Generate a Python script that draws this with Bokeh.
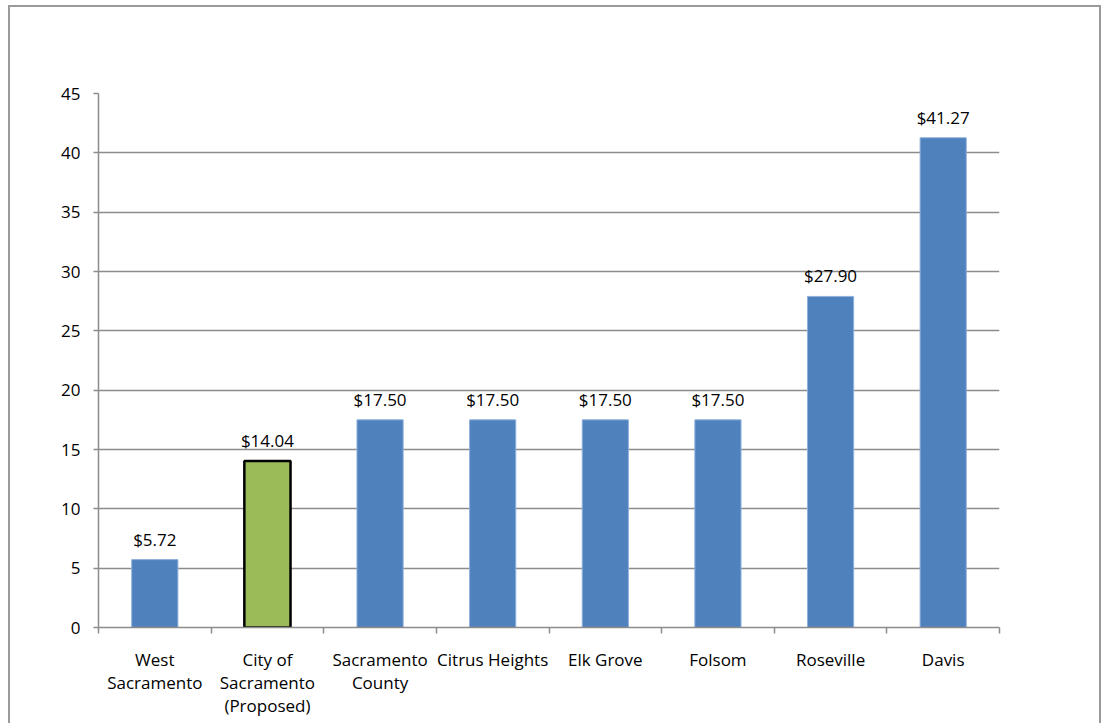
from bokeh.plotting import figure
from bokeh.models import Range1d, FixedTicker, ColumnDataSource, LabelSet
from bokeh.core.properties import value
from bokeh.embed import file_html
from bokeh.resources import INLINE

# Monthly rates by jurisdiction
categories = ["West\nSacramento", "City of\nSacramento\n(Proposed)", "Sacramento\nCounty",
              "Citrus Heights", "Elk Grove", "Folsom", "Roseville", "Davis"]
rates = [5.72, 14.04, 17.50, 17.50, 17.50, 17.50, 27.90, 41.27]
highlight = [False, True, False, False, False, False, False, False]
y_ticks = [0, 5, 10, 15, 20, 25, 30, 35, 40, 45]

FONT = "Open Sans"
BLUE = "#4F81BD"
GREEN = "#9BBB59"
GRID = "#8c8c8c"

xpos = [i + 0.5 for i in range(len(categories))]
source = ColumnDataSource(dict(
    x=xpos,
    top=rates,
    fill=[GREEN if h else BLUE for h in highlight],
    line=["#000000" if h else "#8fb0dc" for h in highlight],
    lw=[2.5 if h else 1.0 for h in highlight],
    label=["$%.2f" % r for r in rates],
))

p = figure(width=1093, height=718, output_backend="svg", toolbar_location=None,
           x_range=Range1d(0, len(categories)), y_range=Range1d(0, 45),
           min_border_left=88, min_border_right=104, min_border_top=86, min_border_bottom=98)
p.styles = {"margin-left": "8px", "margin-top": "5px",
            "border-left": "2px solid #9a9a9a", "border-top": "2px solid #9a9a9a",
            "border-right": "2px solid #9a9a9a"}
p.outline_line_color = None
p.background_fill_color = "white"
p.border_fill_color = "white"

p.vbar(x="x", top="top", width=0.41, bottom=0, source=source,
       fill_color="fill", line_color="line", line_width="lw")

p.add_layout(LabelSet(x="x", y="top", text="label", source=source, y_offset=14,
                      text_align="center", text_baseline="alphabetic",
                      text_font=value(FONT), text_font_size="17px", text_color="#000000"))

# y axis
p.yaxis.ticker = FixedTicker(ticks=y_ticks)
p.yaxis.axis_line_color = GRID
p.yaxis.axis_line_width = 1.5
p.yaxis.major_tick_line_color = GRID
p.yaxis.major_tick_line_width = 1.5
p.yaxis.major_tick_out = 5
p.yaxis.major_tick_in = 0
p.yaxis.minor_tick_line_color = None
p.yaxis.major_label_text_font = FONT
p.yaxis.major_label_text_font_size = "17px"
p.yaxis.major_label_text_color = "#000000"
p.yaxis.major_label_standoff = 13
p.ygrid.ticker = FixedTicker(ticks=y_ticks)
p.ygrid.grid_line_color = GRID
p.ygrid.grid_line_width = 1.5
p.xgrid.grid_line_color = None

# x axis: labels at category centres, tick marks on category boundaries
p.xaxis.ticker = FixedTicker(ticks=xpos, minor_ticks=list(range(len(categories) + 1)))
p.xaxis.major_label_overrides = {x: c for x, c in zip(xpos, categories)}
p.xaxis.axis_line_color = GRID
p.xaxis.axis_line_width = 1.5
p.xaxis.major_tick_line_color = None
p.xaxis.major_tick_out = 0
p.xaxis.major_tick_in = 0
p.xaxis.minor_tick_line_color = GRID
p.xaxis.minor_tick_line_width = 1.5
p.xaxis.minor_tick_out = 6
p.xaxis.minor_tick_in = 0
p.xaxis.major_label_text_font = FONT
p.xaxis.major_label_text_font_size = "17px"
p.xaxis.major_label_text_color = "#000000"
p.xaxis.major_label_text_line_height = 1.0
p.xaxis.major_label_standoff = 14

open("out.html", "w").write(file_html(p, INLINE))
